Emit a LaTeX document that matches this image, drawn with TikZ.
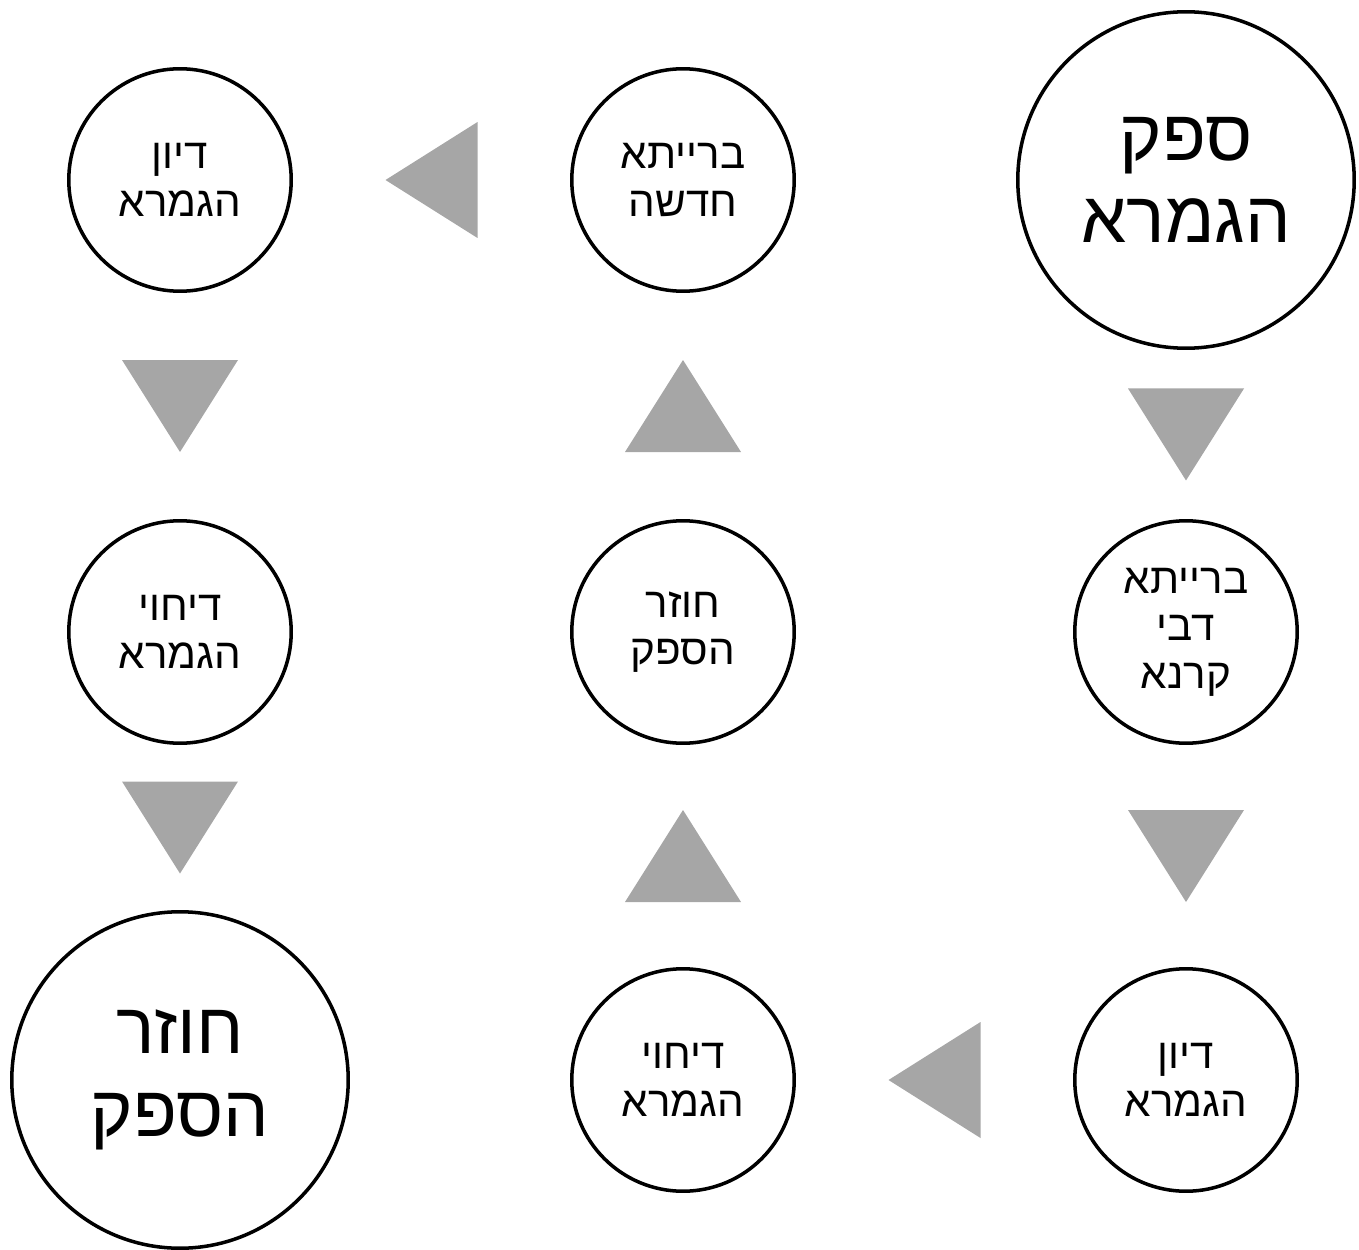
\documentclass[tikz,border=0pt]{standalone}
\usepackage{fontspec}
\usepackage{xcolor}
\usetikzlibrary{calc}
\TeXXeTstate=1
\newfontfamily\hebfont[Script=Hebrew]{Liberation Sans}
\newcommand{\heb}[1]{\beginR #1\endR}
\definecolor{pointergray}{HTML}{A6A6A6}

\tikzset{
    station/.style={circle, draw, line width=2pt, minimum size=4.45cm, inner sep=0pt, align=center,
        font=\hebfont\fontsize{24}{27}\selectfont},
    bigstation/.style={station, minimum size=6.73cm, font=\hebfont\fontsize{41}{47}\selectfont},
    pics/pointer/.style={code={\fill[pointergray] (-58,-46) -- (58,-46) -- (0,46) -- cycle;}}
}

\begin{document}
\begin{tikzpicture}[x=0.02cm, y=-0.02cm]
    \useasboundingbox (0,0) rectangle (1359,1250);

    % Right column
    \node[bigstation] (safek) at (1186,180) {\heb{ספק}\\ \heb{הגמרא}};
    \node[station] (bdk) at (1186,632) {\heb{ברייתא}\\ \heb{דבי}\\ \heb{קרנא}};
    \node[station] (diyunA) at (1186,1080) {\heb{דיון}\\ \heb{הגמרא}};

    % Middle column
    \node[station] (dichuyA) at (683,1080) {\heb{דיחוי}\\ \heb{הגמרא}};
    \node[station] (chozerA) at (683,632) {\heb{חוזר}\\ \heb{הספק}};
    \node[station] (chadasha) at (683,180) {\heb{ברייתא}\\ \heb{חדשה}};

    % Left column
    \node[station] (diyunB) at (180,180) {\heb{דיון}\\ \heb{הגמרא}};
    \node[station] (dichuyB) at (180,632) {\heb{דיחוי}\\ \heb{הגמרא}};
    \node[bigstation] (chozerB) at (180,1080) {\heb{חוזר}\\ \heb{הספק}};

    % Pointers between stations
    \pic at ($(safek.south)!0.5!(bdk.north)$) {pointer};
    \pic at ($(bdk.south)!0.5!(diyunA.north)$) {pointer};
    \pic[rotate=-90] at ($(diyunA.west)!0.5!(dichuyA.east)$) {pointer};
    \pic[rotate=180] at ($(dichuyA.north)!0.5!(chozerA.south)$) {pointer};
    \pic[rotate=180] at ($(chozerA.north)!0.5!(chadasha.south)$) {pointer};
    \pic[rotate=-90] at ($(chadasha.west)!0.5!(diyunB.east)$) {pointer};
    \pic at ($(diyunB.south)!0.5!(dichuyB.north)$) {pointer};
    \pic at ($(dichuyB.south)!0.5!(chozerB.north)$) {pointer};
\end{tikzpicture}
\end{document}
